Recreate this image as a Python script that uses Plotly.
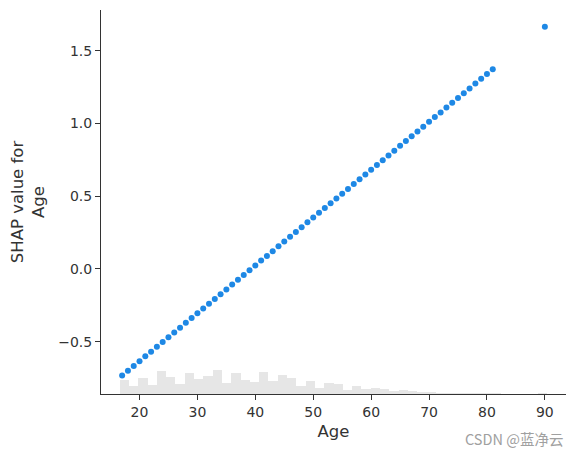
import numpy as np
import plotly.graph_objects as go

# Feature values (Age) and their SHAP values
ages = list(range(17, 82)) + [90]
shap_vals = [
    -0.733, -0.700, -0.667, -0.634, -0.601, -0.569, -0.536, -0.503, -0.470, -0.437,
    -0.404, -0.371, -0.338, -0.305, -0.272, -0.240, -0.207, -0.174, -0.141, -0.108,
    -0.075, -0.042, -0.009, 0.024, 0.057, 0.089, 0.122, 0.155, 0.188, 0.221,
    0.254, 0.287, 0.320, 0.353, 0.386, 0.418, 0.451, 0.484, 0.517, 0.550,
    0.583, 0.616, 0.649, 0.682, 0.715, 0.747, 0.780, 0.813, 0.846, 0.879,
    0.912, 0.945, 0.978, 1.011, 1.044, 1.076, 1.109, 1.142, 1.175, 1.208,
    1.241, 1.274, 1.307, 1.340, 1.373, 1.664,
]

# Background histogram of Age (50 bins over the x-range), relative heights
hist_heights = [
    0, 0,
    14.3, 8.3, 16, 9, 23, 17, 10.3, 21, 15, 18, 24, 11.3, 21, 14, 12, 22, 13, 19,
    16, 8, 13, 6, 11, 10, 4, 8, 5, 6, 5, 3, 4, 3, 1.7, 2.3,
    1, 1, 1, 1, 1, 1, 1,
    0, 0, 0, 0,
    1,
    0, 0,
]

x_lo, x_hi = 13.35, 93.65
n_bins = len(hist_heights)
edges = np.linspace(x_lo, x_hi, n_bins + 1)
centers = (edges[:-1] + edges[1:]) / 2
bw = edges[1] - edges[0]

axis_color = "#333333"
font_family = "DejaVu Sans"

fig = go.Figure()
fig.add_trace(go.Bar(
    x=centers, y=hist_heights, width=bw,
    marker=dict(color="#e6e6e6", line=dict(width=0)),
    yaxis="y", hoverinfo="skip", showlegend=False,
))
fig.add_trace(go.Scatter(
    x=ages, y=shap_vals, mode="markers",
    marker=dict(color="#1E88E5", size=6, line=dict(width=0)),
    yaxis="y2", showlegend=False,
))

# page has an 8px body margin, so the figure is 567x445 placed at (8, 8)
fig.update_layout(
    width=567, height=445,
    margin=dict(l=93, r=9, t=2, b=59),
    plot_bgcolor="white", paper_bgcolor="white",
    bargap=0,
    font=dict(family=font_family, color=axis_color, size=14),
    xaxis=dict(
        range=[x_lo, x_hi], tickvals=[20, 30, 40, 50, 60, 70, 80, 90],
        showgrid=False, zeroline=False, showline=True, linecolor=axis_color, linewidth=1,
        ticks="outside", ticklen=5, tickcolor=axis_color, automargin=False,
        tickfont=dict(size=14, color=axis_color),
        title=dict(text="Age", font=dict(size=16.5, color=axis_color), standoff=6),
    ),
    yaxis=dict(
        range=[0, 384], visible=False, showgrid=False, zeroline=False,
    ),
    yaxis2=dict(
        overlaying="y", side="left",
        range=[-0.86, 1.78], tickvals=[-0.5, 0.0, 0.5, 1.0, 1.5],
        ticktext=["\u22120.5", "0.0", "0.5", "1.0", "1.5"],
        showgrid=False, zeroline=False, showline=True, linecolor=axis_color, linewidth=1,
        ticks="outside", ticklen=5, tickcolor=axis_color, automargin=False,
        tickfont=dict(size=14, color=axis_color),
        title=dict(text="SHAP value for<br>Age", font=dict(size=16.5, color=axis_color), standoff=9),
    ),
    annotations=[dict(
        text="CSDN @蓝净云", xref="paper", yref="paper", x=0.998, y=-0.115,
        xanchor="right", yanchor="middle", showarrow=False,
        font=dict(family="Noto Sans CJK SC", size=14.5, color="#a0a0a0"),
    )],
)

fig.write_html("out.html")
